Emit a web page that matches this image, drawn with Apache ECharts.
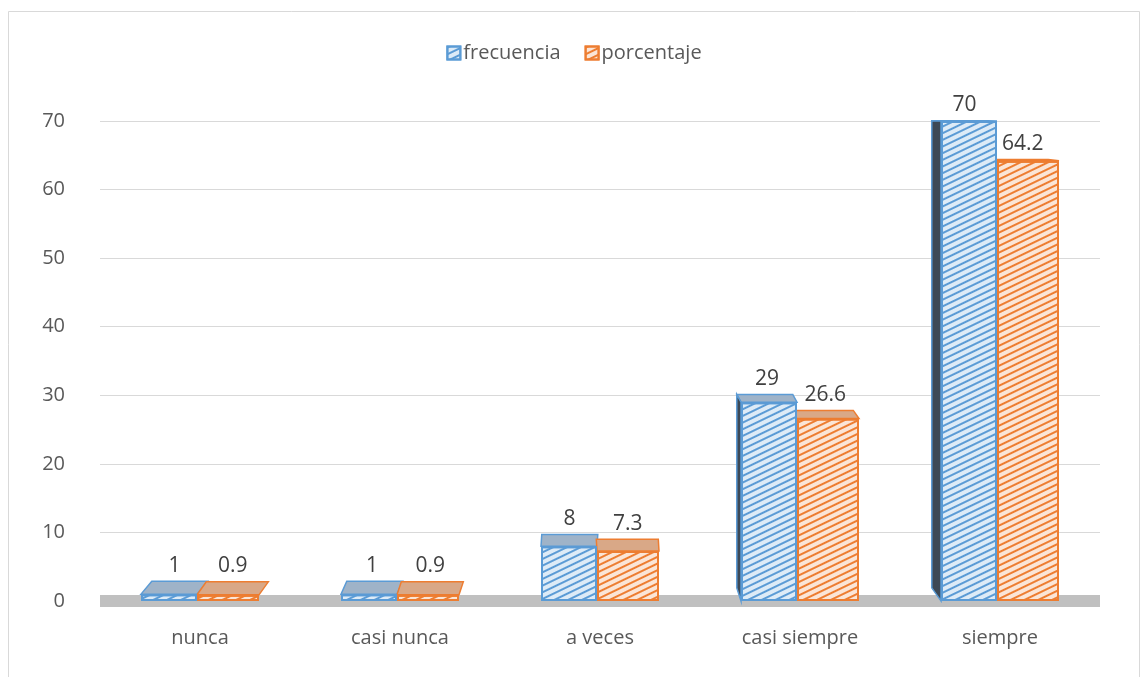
<!DOCTYPE html>
<html>
<head>
<meta charset="utf-8">
<script src="https://cdn.jsdelivr.net/npm/echarts@6/dist/echarts.min.js"></script>
<style>
  html, body { margin: 0; padding: 0; background: #fff; }
  #main { width: 1148px; height: 677px; }
</style>
</head>
<body>
<div id="main"></div>
<script>
var categories = ['nunca', 'casi nunca', 'a veces', 'casi siempre', 'siempre'];
var frecuencia = [1, 1, 8, 29, 70];
var porcentaje = [0.9, 0.9, 7.3, 26.6, 64.2];
var yMin = 0, yMax = 70, yStep = 10;

var fontName = 'Open Sans';
var anchoAzul = 56, anchoNaranja = 62;

// rayado diagonal tipo Excel
function hatch(color) {
    return {
        symbol: 'rect',
        symbolSize: 1,
        color: color,
        dashArrayX: [1, 0],
        dashArrayY: [1.2, 3.8],
        rotation: -Math.PI / 7
    };
}

// caras superior y lateral (imitando el 3D de Excel) + etiqueta del valor
function caras(serie, colorTapa, colorLado, borde) {
    return function (params, api) {
        var cat = api.value(0);
        var val = api.value(1);
        var top = api.coord([cat, val]);
        var base = api.coord([cat, 0]);
        var total = anchoAzul + anchoNaranja;
        var x0, x1;
        if (serie === 0) {
            x0 = top[0] - total / 2;
            x1 = x0 + anchoAzul;
        } else {
            x0 = top[0] - total / 2 + anchoAzul;
            x1 = x0 + anchoNaranja;
        }
        var yt = top[1], y0 = base[1];
        var dTop = Math.max(0, 0.027 * (yt - 115));
        var dBot = 0.027 * (y0 - 115);
        var sx = -((x0 + x1) / 2 - 600) * 0.025;
        var hijos = [{
            type: 'polygon',
            shape: { points: [[x0, yt], [x1, yt], [x1 + sx, yt - dTop], [x0 + sx, yt - dTop]] },
            style: { fill: colorTapa, stroke: borde, lineWidth: 1.5 }
        }];
        if (serie === 0 && sx < -1) {
            hijos.push({
                type: 'polygon',
                shape: { points: [[x0, yt], [x0, y0], [x0 + sx, y0 - dBot], [x0 + sx, yt - dTop]] },
                style: { fill: colorLado, stroke: borde, lineWidth: 1.5 }
            });
        }
        hijos.push({
            type: 'text',
            style: {
                text: String(val),
                x: (x0 + x1) / 2 + sx / 2,
                y: yt - dTop - 5,
                align: 'center',
                verticalAlign: 'bottom',
                fill: '#404040',
                fontSize: 21,
                fontFamily: fontName
            }
        });
        return { type: 'group', children: hijos };
    };
}

var myChart = echarts.init(document.getElementById('main'));

var option = {
    backgroundColor: '#fff',
    textStyle: { fontFamily: fontName },
    graphic: [{
        type: 'rect',
        shape: { x: 8.5, y: 11.5, width: 1131, height: 700 },
        style: { fill: 'none', stroke: '#d9d9d9', lineWidth: 1 },
        silent: true
    }],
    legend: {
        top: 38,
        left: 'center',
        itemWidth: 13,
        itemHeight: 13,
        itemGap: 24,
        icon: 'rect',
        textStyle: { fontSize: 20, color: '#595959', fontFamily: fontName, padding: [0, 0, 0, -2] },
        data: ['frecuencia', 'porcentaje']
    },
    grid: { left: 100, right: 48, top: 121, bottom: 76 },
    xAxis: {
        type: 'category',
        data: categories,
        axisTick: { show: false },
        axisLine: { show: true, lineStyle: { color: '#c0c0c0', width: 12, cap: 'butt' } },
        axisLabel: { fontSize: 20, color: '#595959', margin: 27, fontFamily: fontName }
    },
    yAxis: {
        type: 'value',
        min: yMin,
        max: yMax,
        interval: yStep,
        axisLine: { show: false },
        axisTick: { show: false },
        axisLabel: { fontSize: 20, color: '#595959', margin: 35, fontFamily: fontName },
        splitLine: { lineStyle: { color: '#d9d9d9', width: 1 } }
    },
    series: [
        {
            name: 'frecuencia',
            type: 'bar',
            data: frecuencia,
            barWidth: anchoAzul,
            barGap: '0%',
            z: 3,
            itemStyle: {
                color: '#ddebf7',
                borderColor: '#5b9bd5',
                borderWidth: 2,
                decal: hatch('#5b9bd5')
            }
        },
        {
            name: 'porcentaje',
            type: 'bar',
            data: porcentaje,
            barWidth: anchoNaranja,
            barGap: '0%',
            z: 3,
            itemStyle: {
                color: '#fbe5d6',
                borderColor: '#ed7d31',
                borderWidth: 2,
                decal: hatch('#ed7d31')
            }
        },
        {
            name: 'frecuencia3d',
            type: 'custom',
            z: 2,
            silent: true,
            renderItem: caras(0, '#9fb3c8', '#3d4956', '#5b9bd5'),
            data: frecuencia.map(function (v, i) { return [i, v]; })
        },
        {
            name: 'porcentaje3d',
            type: 'custom',
            z: 2,
            silent: true,
            renderItem: caras(1, '#d9a887', '#8a4a24', '#ed7d31'),
            data: porcentaje.map(function (v, i) { return [i, v]; })
        }
    ]
};

myChart.setOption(option);
</script>
</body>
</html>
